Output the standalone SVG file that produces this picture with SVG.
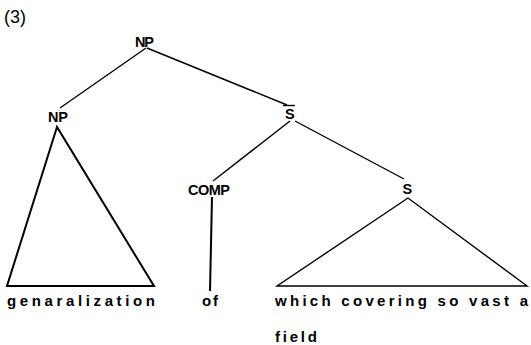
<svg xmlns="http://www.w3.org/2000/svg" width="531" height="345" viewBox="0 0 531 345">
<style>
.lbl{font-family:"Liberation Sans",Arial,sans-serif;font-weight:bold;font-size:14.5px;fill:#000}
.w{font-family:"Liberation Sans",Arial,sans-serif;font-weight:bold;font-size:15px;fill:#000}
.e{stroke:#000;stroke-width:1.4;fill:none}
.t{stroke:#000;stroke-width:2;fill:none;stroke-linejoin:miter}
</style>
<rect width="531" height="345" fill="#fff"/>
<text x="4" y="23" font-family="'Liberation Sans',Arial,sans-serif" font-size="18" fill="#000">(3)</text>
<g id="connectors">
<line class="e" x1="146" y1="48" x2="60" y2="108"/>
<line class="e" x1="147" y1="48" x2="287" y2="105"/>
<line class="e" x1="290" y1="121" x2="213" y2="181"/>
<line class="e" x1="295" y1="121" x2="404" y2="179"/>
<line class="t" x1="212" y1="197" x2="210" y2="291"/>
</g>
<g id="np-top"><text class="lbl" x="135" y="47" textLength="19" lengthAdjust="spacing">NP</text></g>
<g id="np-left"><text class="lbl" x="48" y="122" textLength="20" lengthAdjust="spacing">NP</text>
<polygon class="t" points="57,127 7,286 154,286"/></g>
<g id="s-bar"><text class="lbl" x="285" y="119">S</text><line x1="283" y1="105.5" x2="295" y2="105.5" stroke="#000" stroke-width="1.4"/></g>
<g id="comp"><text class="lbl" x="188" y="195" textLength="42" lengthAdjust="spacing">COMP</text></g>
<g id="s"><text class="lbl" x="402.5" y="194">S</text>
<polygon class="e" points="408,198 277,286 527,286"/></g>
<g id="words">
<text class="w" x="7" y="306" textLength="148" lengthAdjust="spacing">genaralization</text>
<text class="w" x="202" y="306" textLength="16" lengthAdjust="spacing">of</text>
<text class="w" x="275" y="306" textLength="253" lengthAdjust="spacing">which covering so vast a</text>
<text class="w" x="275" y="342" textLength="42" lengthAdjust="spacing">field</text>
</g>
</svg>
